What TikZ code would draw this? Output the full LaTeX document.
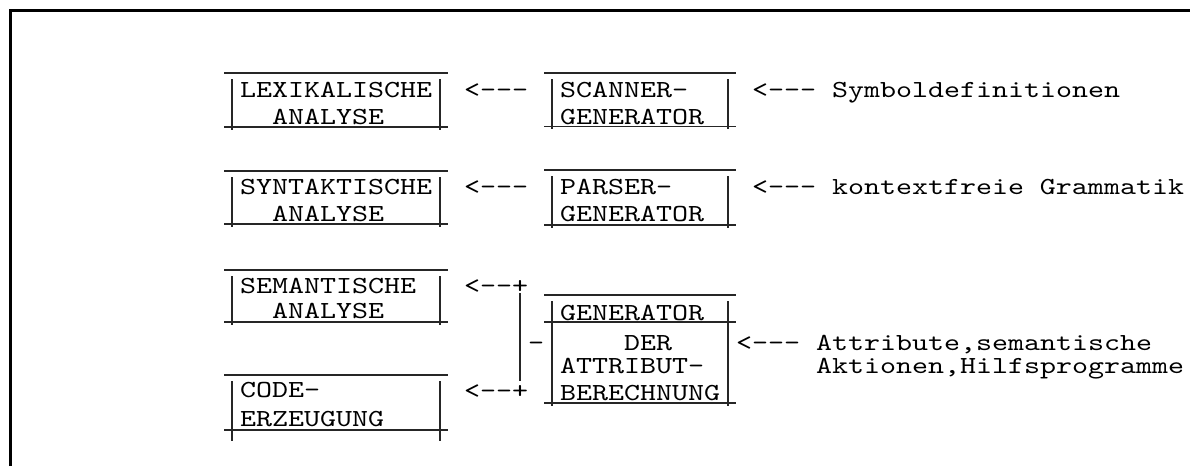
\documentclass[tikz,border=0pt]{standalone}
\usepackage{fontspec}
\newfontfamily\asciimono[FakeStretch=1.244]{lmmono10-regular.otf}
\newcommand\arr{<\kern0pt-\kern0pt-\kern0pt-}
\newcommand\arp{<\kern0pt-\kern0pt-\kern0pt+}
% #1 left col, #2 right col, #3 top y, #4 bottom y, #5 bar bottom y
\newcommand\asciibox[5]{%
  \draw[rule] (16*#1,#3) -- (16*#2+16,#3);
  \draw[rule] (16*#1,#4) -- (16*#2+16,#4);
  \draw[rule] (16*#1+8,#3+6) -- (16*#1+8,#5);
  \draw[rule] (16*#2+8,#3+6) -- (16*#2+8,#5);}
\begin{document}
\begin{tikzpicture}[x=1pt,y=-1pt,
  txt/.style={anchor=base west, inner sep=0pt, outer sep=0pt,
    font=\asciimono\fontsize{24.5}{24.5}\selectfont},
  rule/.style={line width=1.1pt, draw=black!85},
  frame/.style={line width=3pt, draw=black}]
\useasboundingbox (0,0) rectangle (1190,466);
\draw[frame] (10.5,466) -- (10.5,10.5) -- (1190,10.5);

% boxes
\asciibox{14}{27}{73}{127}{130}
\asciibox{34}{45}{73}{126.5}{129}
\asciibox{14}{27}{171}{224}{227}
\asciibox{34}{45}{170}{225}{228}
\asciibox{14}{27}{270}{322}{325}
\asciibox{34}{45}{295}{403}{406}
\draw[rule] (16*34,322) -- (16*46,322);
\asciibox{14}{27}{375}{430}{441}

% row A
\node[txt] (lex)  at (16*15,97)  {LEXIKALISCHE};
\node[txt] (lexb) at (16*17,124) {ANALYSE};
\node[txt] (a1)   at (16*29,97)  {\arr};
\node[txt] (scn)  at (16*35,97)  {SCANNER-};
\node[txt] (scnb) at (16*35,124) {GENERATOR};
\node[txt] (a2)   at (16*47,97)  {\arr};
\node[txt] (sym)  at (16*52,97)  {Symboldefinitionen};

% row B
\node[txt] (syn)  at (16*15,194) {SYNTAKTISCHE};
\node[txt] (synb) at (16*17,221) {ANALYSE};
\node[txt] (b1)   at (16*29,194) {\arr};
\node[txt] (par)  at (16*35,194) {PARSER-};
\node[txt] (parb) at (16*35,221) {GENERATOR};
\node[txt] (b2)   at (16*47,194) {\arr};
\node[txt] (kfg)  at (16*52,194) {kontextfreie Grammatik};

% row C / D
\node[txt] (sem)  at (16*15,293) {SEMANTISCHE};
\node[txt] (semb) at (16*17,318) {ANALYSE};
\node[txt] (c1)   at (16*29,293) {\arp};
\node[txt] (gen)  at (16*35,320) {GENERATOR};
\node[txt] (der)  at (16*39,350) {DER};
\node[txt] (dash) at (16*33,350) {-};
\node[txt] (att)  at (16*35,373) {ATTRIBUT-};
\node[txt] (ber)  at (16*35,400) {BERECHNUNG};
\node[txt] (c3)   at (16*46,350) {\arr};
\node[txt] (atr)  at (16*51,350) {Attribute,semantische};
\node[txt] (akt)  at (16*51,373) {Aktionen,Hilfsprogramme};
\node[txt] (code) at (16*15,397) {CODE-};
\node[txt] (codb) at (16*15,426) {ERZEUGUNG};
\node[txt] (c2)   at (16*29,398) {\arp};

\coordinate (vtop) at (520,293);
\coordinate (vbot) at (520,381);
\draw[rule] (vtop) -- (vbot);
\end{tikzpicture}
\end{document}
